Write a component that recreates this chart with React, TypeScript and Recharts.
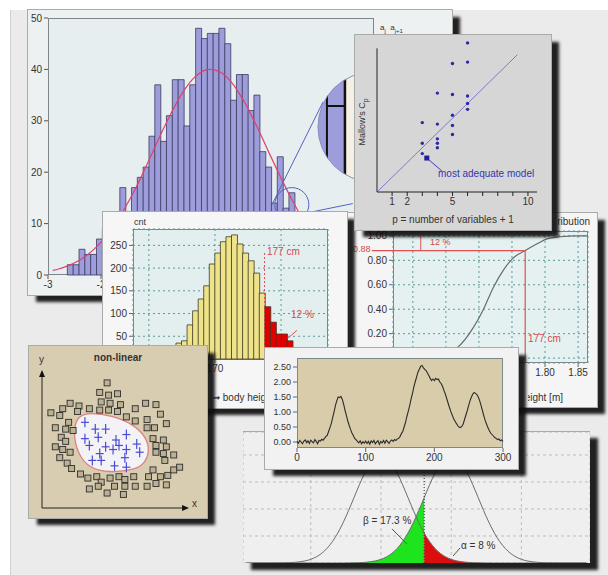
import React from "react";
import {
  Area,
  Bar,
  CartesianGrid,
  Cell,
  ComposedChart,
  Curve,
  Line,
  LineChart,
  ReferenceDot,
  ReferenceLine,
  Scatter,
  ScatterChart,
  XAxis,
  YAxis,
} from "recharts";

const FONT = "'Liberation Sans', Arial, sans-serif";

// ---- big histogram (purple) ----
const purpleX = [
  -2.91, -2.8, -2.69, -2.58, -2.47, -2.36, -2.25, -2.14, -2.03, -1.92, -1.81, -1.7, -1.59, -1.48, -1.37,
  -1.26, -1.15, -1.04, -0.93, -0.82, -0.71, -0.6, -0.49, -0.38, -0.27, -0.16, -0.05, 0.06, 0.17, 0.28,
  0.39, 0.5, 0.61, 0.72, 0.83, 0.94, 1.05, 1.16, 1.27, 1.38, 1.49, 1.6, 1.71, 1.82,
];
const purpleCounts = [
  null, null, null, 2, 2, 5, 4, 4, 7, 9, 10, 12, 17, 12, 17, 19, 21, 27, 37, 26, 31, 38, 38, 29, 37, 48,
  46, 47, 47, 48, 45, 34, 39, 39, 32, 35, 24, 21, 14, 23, 13, 16, null, null,
];
const purpleFit = [
  0.89, 1.17, 1.53, 1.97, 2.52, 3.18, 3.98, 4.93, 6.04, 7.33, 8.8, 10.4, 12.3, 14.3, 16.4, 18.7, 21.1,
  23.6, 26.1, 28.5, 30.8, 33.0, 35.0, 36.7, 38.1, 39.1, 39.8, 40.0, 39.8, 39.3, 38.3, 37.0, 35.3, 33.4,
  31.2, 28.9, 26.5, 24.0, 21.6, 19.2, 16.9, 14.7, 12.6, 10.8,
];
const purpleXTicks = [-3, -2, -1, 0, 1, 2, 3];
const purpleXShown = [-3, -2];
const purpleYTicks = [0, 10, 20, 30, 40, 50];

// ---- body height histogram (yellow / red) ----
const yellowX = [
  162.0, 162.84, 163.68, 164.52, 165.36, 166.2, 167.04, 167.88, 168.72, 169.56, 170.4, 171.24, 172.08,
  172.92, 173.76, 174.6, 175.44, 176.28, 177.12, 177.96, 178.8, 179.64, 180.48, 181.32,
];
const yellowCounts = [
  6, 12, 22, 35, 40, 75, 106, 132, 161, 209, 233, 258, 269, 273, 253, 233, 216, 189, 145, 115, 81, 55,
  55, 40,
];
const cutHeight = 177.5;
const yellowXTicks = [160, 170, 180];
const yellowXShown = [170];
const yellowYTicks = [0, 50, 100, 150, 200, 250];

// ---- Mallows Cp ----
const mallowsP = [6, 5, 6, 4, 5, 6, 6, 6, 5, 5, 5, 3, 4, 4, 4, 4, 3, 3];
const mallowsCp = [10.1, 8.7, 8.8, 6.7, 6.6, 6.5, 6.0, 5.6, 5.2, 4.5, 3.9, 4.7, 4.6, 3.6, 3.3, 3.0, 3.3, 2.6];
const bestModel = [{ x: 3.3, y: 2.3 }];
const mallowsTicks = [1, 2, 3, 4, 5, 6, 7, 8, 9, 10];
const mallowsLabelled = [1, 2, 5, 10];

// ---- cumulative distribution ----
const cdfHeight = [1.57, 1.6, 1.63, 1.65, 1.668, 1.691, 1.706, 1.722, 1.737, 1.752, 1.77, 1.788, 1.803, 1.823, 1.849, 1.865];
const cdfValue = [0.0, 0.004, 0.02, 0.05, 0.09, 0.245, 0.39, 0.58, 0.72, 0.82, 0.88, 0.935, 0.975, 0.993, 1.0, 1.0];
const cdfXTicks = [1.6, 1.65, 1.7, 1.75, 1.8, 1.85];
const cdfXShown = [1.8, 1.85];
const cdfYTicks = [0, 0.2, 0.4, 0.6, 0.8, 1.0];

// ---- non-linear classes ----
const squaresX = [
  4.4, 3.9, 4.5, 5.1, 1.9, 2.5, 4.0, 4.6, 5.3, 0.6, 1.4, 2.4, 3.2, 3.9, 4.5, 5.1, 6.3, 7.0, 7.7, 1.2, 0.9,
  1.6, 2.1, 1.3, 1.6, 0.9, 1.4, 1.9, 1.2, 1.7, 2.0, 5.7, 6.3, 7.1, 8.0, 8.4, 7.1, 7.6, 7.5, 8.2, 7.7, 8.4,
  8.9, 7.7, 8.2, 8.3, 9.3, 8.9, 8.5, 7.5, 7.2, 8.0, 7.7, 8.4, 7.1, 2.6, 3.1, 3.7, 4.0, 4.6, 5.2, 5.6, 6.2,
  3.2, 3.8, 4.4, 5.5, 4.9, 5.6, 6.3, 1.8,
];
const squaresY = [
  9.2, 8.5, 8.3, 8.4, 7.7, 7.5, 7.8, 7.7, 7.6, 7.0, 7.3, 7.1, 7.3, 7.2, 7.2, 7.1, 7.3, 7.7, 7.6, 6.8, 5.9,
  5.8, 5.7, 5.2, 4.9, 4.5, 4.3, 4.1, 3.7, 3.3, 2.9, 6.7, 6.4, 6.5, 6.9, 6.2, 5.9, 5.9, 5.1, 5.0, 4.6, 4.5,
  3.9, 4.1, 4.0, 3.5, 3.0, 2.8, 2.4, 2.8, 2.3, 2.3, 1.8, 1.7, 1.6, 2.5, 2.2, 2.3, 1.9, 2.2, 2.3, 2.1, 2.3,
  1.4, 1.6, 1.1, 1.0, 1.6, 1.6, 1.6, 6.3,
];
const plusX = [2.9, 3.6, 4.3, 3.8, 2.9, 3.2, 5.0, 5.7, 4.3, 4.8, 3.9, 6.4, 6.6, 5.7, 5.2, 3.4, 4.0, 4.9, 5.6, 5.7];
const plusY = [6.3, 5.8, 5.8, 5.2, 5.1, 4.6, 5.0, 5.4, 4.5, 4.3, 4.0, 4.7, 4.1, 4.3, 4.6, 3.5, 3.5, 3.1, 3.7, 3.0];
const blobX = [2.4, 3.3, 4.7, 6.1, 7.0, 7.3, 6.9, 6.2, 4.6, 3.2, 2.4, 2.1];
const blobY = [6.8, 7.0, 6.8, 6.2, 5.3, 4.2, 3.2, 2.8, 2.6, 2.9, 4.0, 5.6];

// ---- noisy signal ----
const tsValues = [
  0.02, -0.04, 0.05, 0.0, -0.06, 0.03, 0.07, -0.02, 0.04, -0.05, 0.06, 0.01, -0.03, 0.08, 0.02, -0.06, 0.05,
  0.03, 0.09, 0.06, 0.12, 0.18, 0.22, 0.35, 0.48, 0.62, 0.82, 1.0, 1.22, 1.38, 1.5, 1.48, 1.52, 1.42, 1.25,
  1.05, 0.88, 0.7, 0.55, 0.42, 0.3, 0.22, 0.12, 0.08, 0.02, -0.03, 0.04, -0.06, 0.01, -0.04, 0.03, -0.05,
  0.02, -0.07, 0.04, -0.02, 0.05, -0.06, 0.0, 0.04, -0.08, 0.02, -0.03, 0.05, -0.04, 0.06, 0.01, -0.05,
  0.03, 0.07, 0.02, 0.08, 0.05, 0.1, 0.12, 0.18, 0.28, 0.35, 0.5, 0.65, 0.85, 1.02, 1.2, 1.42, 1.6, 1.82,
  2.0, 2.15, 2.32, 2.42, 2.52, 2.55, 2.48, 2.42, 2.38, 2.3, 2.22, 2.12, 2.05, 2.1, 2.05, 2.12, 2.08, 2.1,
  2.0, 1.95, 1.85, 1.72, 1.6, 1.45, 1.3, 1.15, 1.02, 0.9, 0.78, 0.7, 0.62, 0.55, 0.5, 0.48, 0.52, 0.6, 0.75,
  0.9, 1.05, 1.22, 1.38, 1.5, 1.6, 1.65, 1.62, 1.58, 1.5, 1.38, 1.22, 1.05, 0.88, 0.72, 0.6, 0.48, 0.38,
  0.3, 0.25, 0.2, 0.15, 0.12, 0.08, 0.1, 0.04, 0.07, 0.02,
];
const tsXTicks = [0, 100, 200, 300];
const tsYTicks = [0, 0.5, 1, 1.5, 2, 2.5];

// ---- two normal densities (alpha / beta) ----
const h0Density = [
  0, 0, 0, 0, 0, 0.0001, 0.0003, 0.0006, 0.0012, 0.0024, 0.0044, 0.0079, 0.0136, 0.0224, 0.0355, 0.054,
  0.079, 0.1109, 0.1497, 0.1942, 0.242, 0.2897, 0.3332, 0.3683, 0.391, 0.3989, 0.391, 0.3683, 0.3332,
  0.2897, 0.242, 0.1942, 0.1497, 0.1109, 0.079, 0.054, 0.0355, 0.0224, 0.0136, 0.0079, 0.0044, 0.0024,
  0.0012, 0.0006, 0.0003, 0.0001, 0, 0, 0, 0, 0, 0, 0, 0, 0, 0, 0, 0, 0, 0, 0, 0, 0, 0,
];
const h1Density = [
  0, 0, 0, 0, 0, 0, 0, 0, 0, 0, 0, 0, 0, 0, 0, 0, 0, 0, 0.0001, 0.0003, 0.0006, 0.0012, 0.0024, 0.0044,
  0.0079, 0.0136, 0.0224, 0.0355, 0.054, 0.079, 0.1109, 0.1497, 0.1942, 0.242, 0.2897, 0.3332, 0.3683,
  0.391, 0.3989, 0.391, 0.3683, 0.3332, 0.2897, 0.242, 0.1942, 0.1497, 0.1109, 0.079, 0.054, 0.0355,
  0.0224, 0.0136, 0.0079, 0.0044, 0.0024, 0.0012, 0.0006, 0.0003, 0.0001, 0, 0, 0, 0, 0,
];
const critical = 1.6;
const normGridX = [-2.6, 0, 2.6, 5.2];
const normGridY = [0.1, 0.2, 0.3, 0.4];

// ---- tables ----
const purpleRows = purpleX.map((x, i) => ({ x, count: purpleCounts[i], fit: purpleFit[i] }));
const yellowRows = yellowX.map((x, i) => ({ x, n: yellowCounts[i] }));
const cdfRows = cdfHeight.map((h, i) => ({ h, F: cdfValue[i] }));
const mallowsRows = mallowsP.map((x, i) => ({ x, y: mallowsCp[i] }));
const squareRows = squaresX.map((x, i) => ({ x, y: squaresY[i] }));
const plusRows = plusX.map((x, i) => ({ x, y: plusY[i] }));
const blobRows = blobX.map((x, i) => ({ x, y: blobY[i] }));
const tsRows = tsValues.map((v, i) => ({ t: i * 2, v }));
const normRows = h0Density.map((h0, i) => {
  const x = Math.round((-5 + i * 0.2) * 10) / 10;
  const h1 = h1Density[i];
  return { x, h0, h1, beta: x <= critical ? h1 : null, alpha: x >= critical ? h0 : null };
});

const tick = { fontSize: 10, fill: "#333", fontFamily: FONT };
const SHADOW = "8px 7px 3px rgba(15,15,15,0.92)";
const only = (shown: number[], fmt: (v: number) => string) => (v: number) => (shown.includes(v) ? fmt(v) : "");

function Panel({ left, top, width, height, bg, z, children, style }: any) {
  return (
    <div
      style={{
        position: "absolute",
        left,
        top,
        width,
        height,
        background: bg,
        zIndex: z,
        boxShadow: SHADOW,
        outline: "1px solid #aaa",
        ...style,
      }}
    >
      {children}
    </div>
  );
}

function T({ x, y, children, style }: any) {
  return (
    <div
      style={{
        position: "absolute",
        left: x,
        top: y,
        fontSize: 10,
        lineHeight: "12px",
        fontFamily: FONT,
        color: "#333",
        whiteSpace: "nowrap",
        ...style,
      }}
    >
      {children}
    </div>
  );
}

// text partly covered by a panel in front: only the visible part is kept on screen
function Clip({ x, y, w, align = "left", children }: any) {
  return (
    <div style={{ position: "absolute", left: x, top: y, width: w, height: 13, overflow: "hidden" }}>
      <div
        style={{
          position: "absolute",
          [align]: 0,
          top: 0,
          fontSize: 10,
          lineHeight: "12px",
          fontFamily: FONT,
          color: "#333",
          whiteSpace: "nowrap",
        }}
      >
        {children}
      </div>
    </div>
  );
}

function Frame({ x, y, w, h, bg }: any) {
  return (
    <div
      style={{
        position: "absolute",
        left: x,
        top: y,
        width: w,
        height: h,
        background: bg,
        border: "1px solid #7d8689",
        boxSizing: "border-box",
      }}
    />
  );
}

const At = ({ children }: any) => <div style={{ position: "absolute", left: 0, top: 0 }}>{children}</div>;

function Magnifier(p: any) {
  const { cx, cy } = p;
  const r = 55;
  return (
    <g>
      <defs>
        <clipPath id="magclip">
          <circle cx={cx} cy={cy} r={r} />
        </clipPath>
      </defs>
      <g clipPath="url(#magclip)">
        <rect x={cx - r} y={cy - r} width={r - 28} height={2 * r} fill="#9d9ddc" />
        <rect x={cx - 28} y={cy - r} width={r + 28} height={2 * r} fill="#f4f0e3" />
        <line x1={cx - 46} y1={cy - 35} x2={cx - 46} y2={cy + 33} stroke="#111" strokeWidth={2} />
        <line x1={cx - 28} y1={cy - r} x2={cx - 28} y2={cy + r} stroke="#111" strokeWidth={2.5} />
        <line x1={cx - 46} y1={cy - 21} x2={cx - 28} y2={cy - 21} stroke="#111" strokeWidth={2} />
      </g>
      <circle cx={cx} cy={cy} r={r} fill="none" stroke="#8790c6" strokeWidth={1} />
    </g>
  );
}

const squareShape = (p: any) => (
  <rect x={p.cx - 3} y={p.cy - 3} width={6} height={6} fill="#bcb293" stroke="#2e2e2e" strokeWidth={0.9} />
);
const plusShape = (p: any) => (
  <g stroke="#4b4bd2" strokeWidth={1.2}>
    <line x1={p.cx - 4} y1={p.cy} x2={p.cx + 4} y2={p.cy} />
    <line x1={p.cx} y1={p.cy - 5} x2={p.cx} y2={p.cy + 5} />
  </g>
);
const arrowUp = (p: any) => (
  <path d={`M${p.cx - 3},${p.cy + 5} L${p.cx},${p.cy - 2} L${p.cx + 3},${p.cy + 5} Z`} fill="#111" />
);
const arrowRight = (p: any) => (
  <path d={`M${p.cx - 5},${p.cy - 3} L${p.cx + 2},${p.cy} L${p.cx - 5},${p.cy + 3} Z`} fill="#111" />
);

export default function App() {
  return (
    <div style={{ position: "absolute", left: 0, top: 0, width: 608, height: 575, background: "#fff", overflow: "hidden" }}>
      <div style={{ position: "absolute", left: 10, top: 10, width: 598, height: 565, background: "#ebebeb", borderLeft: "1px solid #cfcfcf" }} />

      {/* big histogram */}
      <Panel left={28} top={10} width={424} height={285} bg="#edf1f2" z={1}>
        <Frame x={20} y={8} w={326} h={257} bg="#e6eef0" />
        <T x={352} y={12} style={{ fontSize: 8 }}>
          a<sub style={{ fontSize: 6 }}>j</sub>&nbsp;&nbsp;a<sub style={{ fontSize: 6 }}>j+1</sub>
        </T>
        <At>
          <ComposedChart width={424} height={285} data={purpleRows} margin={{ top: 8, right: 78, bottom: 0, left: 0 }} barCategoryGap={0}>
            <XAxis dataKey="x" type="number" domain={[-3, 3.15]} ticks={purpleXTicks} interval={0} allowDataOverflow height={20} tick={tick} tickSize={4} tickFormatter={only(purpleXShown, String)} axisLine={false} tickLine={{ stroke: "#555" }} />
            <YAxis type="number" domain={[0, 50]} ticks={purpleYTicks} interval={0} width={20} tick={tick} tickSize={4} axisLine={false} tickLine={{ stroke: "#555" }} />
            <Bar dataKey="count" fill="#9d9ddc" stroke="#3b3b5e" strokeWidth={0.8} isAnimationActive={false} />
            <Line dataKey="fit" type="monotone" stroke="#e0406a" strokeWidth={1.2} dot={false} isAnimationActive={false} />
            <ReferenceDot x={1.6} y={13.7} r={17} fill="none" stroke="#5563c2" strokeWidth={1} ifOverflow="visible" />
            <ReferenceLine segment={[{ x: 1.226, y: 13.7 }, { x: 2.19, y: 33.7 }]} stroke="#5563c2" strokeWidth={1} ifOverflow="visible" />
            <ReferenceLine segment={[{ x: 1.85, y: 12.0 }, { x: 2.75, y: 13.9 }]} stroke="#5563c2" strokeWidth={1} ifOverflow="visible" />
            <ReferenceDot x={3.13} y={28.8} r={55} ifOverflow="visible" shape={Magnifier} />
          </ComposedChart>
        </At>
      </Panel>

      {/* alpha / beta densities */}
      <Panel left={243} top={431} width={347} height={131} bg="#efefef" z={2} style={{ outline: "none", borderTop: "1px solid #a8a8a8" }}>
        <At>
          <ComposedChart width={347} height={131} data={normRows} margin={{ top: 0, right: 0, bottom: 0, left: 0 }}>
            <XAxis dataKey="x" type="number" domain={[-5.11, 7.74]} ticks={normGridX} hide />
            <YAxis type="number" domain={[0, 0.485]} ticks={normGridY} hide />
            <CartesianGrid strokeDasharray="3 3" stroke="#bdbdbd" />
            <Area dataKey="beta" type="monotone" fill="#1ee41e" fillOpacity={1} stroke="none" isAnimationActive={false} />
            <Area dataKey="alpha" type="monotone" fill="#dc0d0d" fillOpacity={1} stroke="none" isAnimationActive={false} />
            <Line dataKey="h0" type="monotone" stroke="#6b6b6b" strokeWidth={1} dot={false} isAnimationActive={false} />
            <Line dataKey="h1" type="monotone" stroke="#6b6b6b" strokeWidth={1} dot={false} isAnimationActive={false} />
            <ReferenceLine x={critical} stroke="#333" strokeDasharray="1 2" />
            <ReferenceLine segment={[{ x: 0.41, y: 0.126 }, { x: 0.96, y: 0.07 }]} stroke="#555" />
            <ReferenceLine segment={[{ x: 2.67, y: 0.026 }, { x: 2.93, y: 0.056 }]} stroke="#555" />
          </ComposedChart>
        </At>
        <T x={120} y={83}>β = 17.3 %</T>
        <T x={218} y={108}>α = 8 %</T>
      </Panel>

      {/* cumulative distribution */}
      <Panel left={348} top={213} width={249} height={194} bg="#f5f5f5" z={3}>
        <Frame x={45} y={18} w={195} h={132} bg="#e5f1f1" />
        <Clip x={210} y={3} w={32} align="right">cumulative distribution</Clip>
        <At>
          <LineChart width={249} height={194} data={cdfRows} margin={{ top: 18, right: 9, bottom: 24, left: 7 }}>
            <CartesianGrid strokeDasharray="2 3" stroke="#5a9a9c" />
            <XAxis dataKey="h" type="number" domain={[1.57, 1.865]} ticks={cdfXTicks} interval={0} allowDataOverflow height={20} tick={tick} tickSize={4} tickFormatter={only(cdfXShown, (v) => v.toFixed(2))} axisLine={false} />
            <YAxis type="number" domain={[-0.04, 1.04]} ticks={cdfYTicks} interval={0} allowDataOverflow width={38} tick={tick} tickSize={4} tickFormatter={(v) => (v === 0 ? "" : v.toFixed(2))} axisLine={false} />
            <Line dataKey="F" type="monotone" stroke="#6a6a6a" strokeWidth={1.2} dot={false} isAnimationActive={false} />
            <ReferenceLine segment={[{ x: 1.538, y: 0.88 }, { x: 1.77, y: 0.88 }]} stroke="#e05050" strokeWidth={1.2} ifOverflow="visible" />
            <ReferenceLine segment={[{ x: 1.77, y: 0.88 }, { x: 1.77, y: -0.04 }]} stroke="#e05050" strokeWidth={1.2} />
            <ReferenceLine segment={[{ x: 1.612, y: 0.88 }, { x: 1.612, y: 1.0 }]} stroke="#e05050" strokeWidth={1} />
          </LineChart>
        </At>
        <T x={5} y={30} style={{ color: "#d44a4a", fontSize: 9 }}>0.88</T>
        <T x={82} y={23} style={{ color: "#d44a4a", fontSize: 9 }}>12 %</T>
        <T x={180} y={120} style={{ color: "#d44a4a" }}>177 cm</T>
        <Clip x={180} y={179} w={35} align="right">body height [m]</Clip>
      </Panel>

      {/* body height histogram */}
      <Panel left={103} top={212} width={244} height={196} bg="#f6f6f6" z={4}>
        <Frame x={30} y={17} w={195} h={131} bg="#e3efef" />
        <T x={31} y={4} style={{ fontSize: 9 }}>cnt</T>
        <At>
          <ComposedChart width={244} height={196} data={yellowRows} margin={{ top: 17, right: 19, bottom: 29, left: 0 }} barCategoryGap={0}>
            <CartesianGrid strokeDasharray="2 3" stroke="#5a9a9c" />
            <XAxis dataKey="x" type="number" domain={[157.6, 187.1]} ticks={yellowXTicks} interval={0} allowDataOverflow height={20} tick={tick} tickSize={4} tickFormatter={only(yellowXShown, String)} axisLine={false} />
            <YAxis type="number" domain={[0, 286]} ticks={yellowYTicks} interval={0} width={30} tick={tick} tickSize={4} tickFormatter={(v) => (v === 0 ? "" : String(v))} axisLine={false} />
            <Bar dataKey="n" stroke="#3d3a26" strokeWidth={0.8} isAnimationActive={false}>
              {yellowRows.map((r) => (
                <Cell key={r.x} fill={r.x > cutHeight ? "#e00000" : "#efe38a"} />
              ))}
            </Bar>
            <ReferenceLine segment={[{ x: cutHeight, y: 0 }, { x: cutHeight, y: 236 }]} stroke="#e05050" strokeDasharray="2 2" />
            <ReferenceLine segment={[{ x: 181.06, y: 46 }, { x: 182.4, y: 63 }]} stroke="#e05050" />
          </ComposedChart>
        </At>
        <T x={164} y={34} style={{ color: "#d44a4a" }}>177 cm</T>
        <T x={188} y={97} style={{ color: "#d44a4a" }}>12 %</T>
        <Clip x={109} y={180} w={53}>➞ body height [cm]</Clip>
      </Panel>

      {/* Mallows Cp */}
      <Panel left={355} top={35} width={196} height={195} bg="#d6d6d6" z={5}>
        <At>
          <ScatterChart width={196} height={195} margin={{ top: 2, right: 14, bottom: 18, left: 22 }}>
            <XAxis dataKey="x" type="number" domain={[0, 10.6]} ticks={mallowsTicks} interval={0} height={20} tick={tick} tickSize={4} tickFormatter={only(mallowsLabelled, String)} axisLine={{ stroke: "#222" }} tickLine={{ stroke: "#222" }} />
            <YAxis dataKey="y" type="number" domain={[0, 10.5]} hide />
            <ReferenceLine segment={[{ x: 0, y: 0 }, { x: 0, y: 9.73 }]} stroke="#222" />
            <ReferenceLine segment={[{ x: 0, y: 0 }, { x: 9.3, y: 9.3 }]} stroke="#7a7ad2" />
            <ReferenceLine segment={[{ x: 3.3, y: 2.3 }, { x: 4.3, y: 1.42 }]} stroke="#3a3ab0" />
            <Scatter data={mallowsRows} fill="#2a2aa6" isAnimationActive={false} shape={(p: any) => <circle cx={p.cx} cy={p.cy} r={1.7} fill="#2a2aa6" />} />
            <Scatter data={bestModel} fill="#1f1fa0" isAnimationActive={false} shape={(p: any) => <rect x={p.cx - 2.5} y={p.cy - 2.5} width={5} height={5} fill="#1f1fa0" />} />
          </ScatterChart>
        </At>
        <div style={{ position: "absolute", left: -31, top: 79, width: 80, textAlign: "center", transform: "rotate(-90deg)", fontSize: 9, fontFamily: FONT, color: "#333", lineHeight: "12px" }}>
          Mallow's C<sub style={{ fontSize: 7 }}>p</sub>
        </div>
        <T x={0} y={179} style={{ width: 196, textAlign: "center" }}>p = number of variables + 1</T>
        <T x={83} y={133} style={{ color: "#3535b0" }}>most adequate model</T>
      </Panel>

      {/* non-linear separation */}
      <Panel left={29} top={346} width={178} height={172} bg="#d8cdb0" z={6}>
        <T x={0} y={6} style={{ width: 178, textAlign: "center", fontWeight: "bold" }}>non-linear</T>
        <T x={10} y={8}>y</T>
        <T x={163} y={152}>x</T>
        <At>
          <ScatterChart width={178} height={172} margin={{ top: 26, right: 17, bottom: 10, left: 13 }}>
            <XAxis dataKey="x" type="number" domain={[0, 10]} hide />
            <YAxis dataKey="y" type="number" domain={[0, 10]} hide />
            <ReferenceLine segment={[{ x: 0, y: 0 }, { x: 0, y: 9.8 }]} stroke="#222" ifOverflow="visible" />
            <ReferenceLine segment={[{ x: 0, y: 0 }, { x: 9.7, y: 0 }]} stroke="#222" ifOverflow="visible" />
            <ReferenceDot x={0} y={10} r={3} shape={arrowUp} ifOverflow="visible" />
            <ReferenceDot x={9.8} y={0} r={3} shape={arrowRight} ifOverflow="visible" />
            <Scatter
              data={blobRows}
              isAnimationActive={false}
              lineType="joint"
              line={(p: any) => <Curve {...p} type="basisClosed" fill="#f3f3f7" stroke="#e08080" strokeWidth={1.3} />}
              shape={() => <g />}
            />
            <Scatter data={squareRows} isAnimationActive={false} shape={squareShape} />
            <Scatter data={plusRows} isAnimationActive={false} shape={plusShape} />
          </ScatterChart>
        </At>
      </Panel>

      {/* noisy signal */}
      <Panel left={265} top={348} width={253} height={121} bg="#f2f2f2" z={7}>
        <Frame x={32} y={10} w={206} h={90} bg="#d9ccab" />
        <At>
          <LineChart width={253} height={121} data={tsRows} margin={{ top: 10, right: 15, bottom: 1, left: 0 }}>
            <XAxis dataKey="t" type="number" domain={[0, 300]} ticks={tsXTicks} interval={0} height={20} tick={tick} tickSize={4} axisLine={false} />
            <YAxis type="number" domain={[-0.2, 2.8]} ticks={tsYTicks} interval={0} width={32} tick={{ ...tick, fontSize: 9 }} tickSize={4} tickFormatter={(v) => v.toFixed(2)} axisLine={false} />
            <Line dataKey="v" type="linear" stroke="#2b2b2b" strokeWidth={1.1} dot={false} isAnimationActive={false} />
          </LineChart>
        </At>
      </Panel>
    </div>
  );
}
